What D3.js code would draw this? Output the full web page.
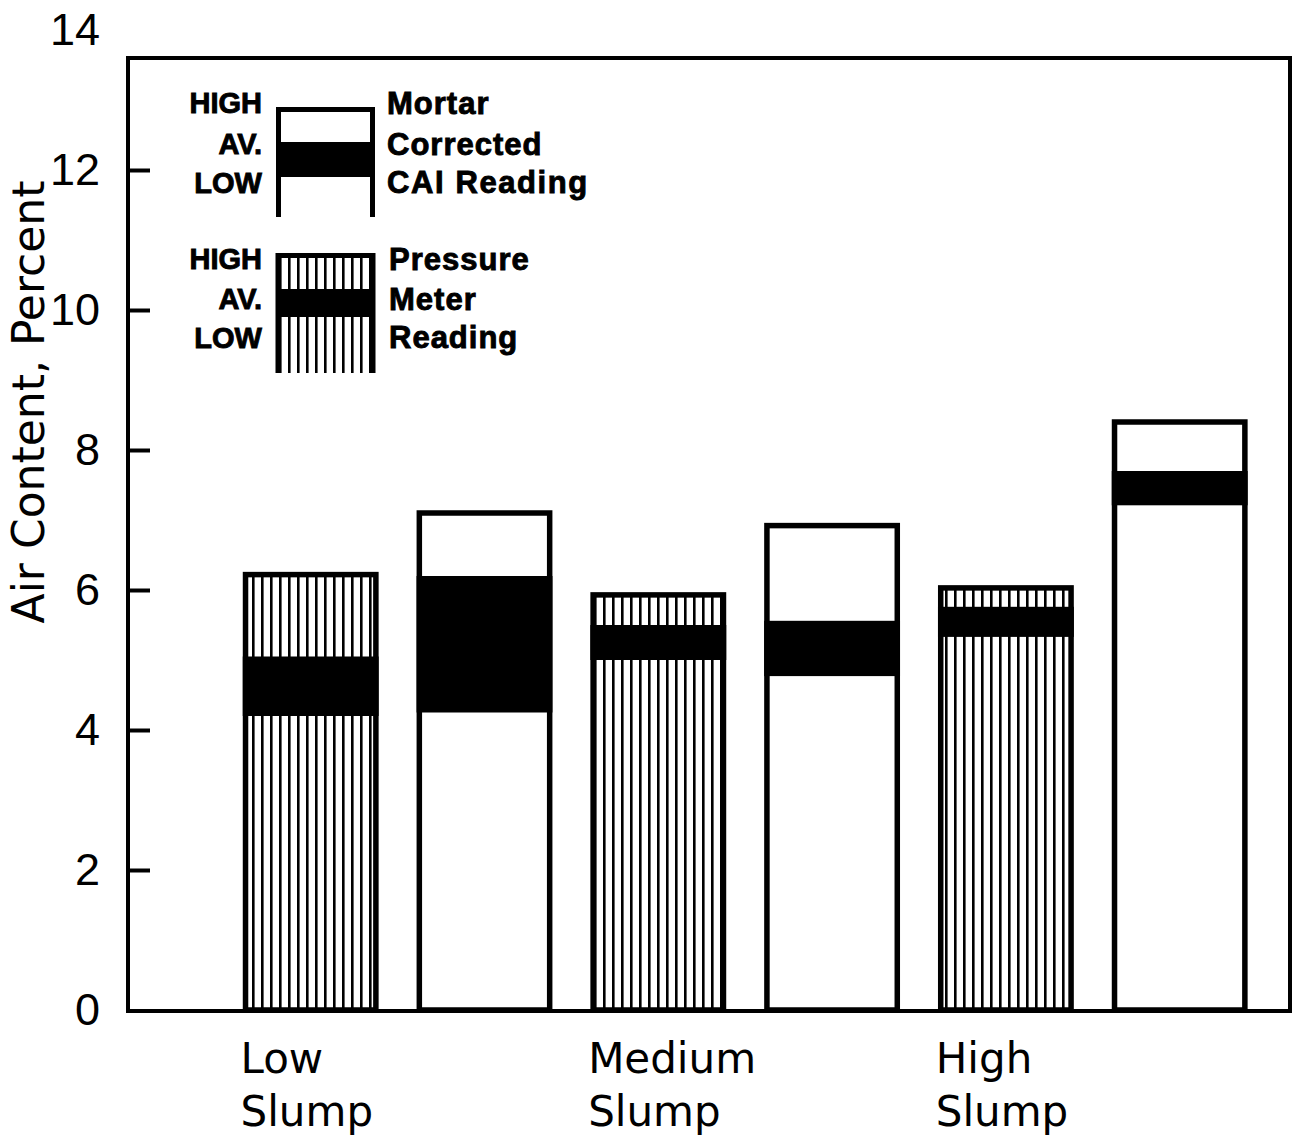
<!DOCTYPE html>
<html>
<head>
<meta charset="utf-8">
<script src="https://cdn.jsdelivr.net/npm/d3@7"></script>
<style>
  html, body { margin: 0; padding: 0; background: #fff; }
  svg { display: block; }
</style>
</head>
<body>
<svg id="chart" width="1297" height="1144"></svg>
<script>
// Air content by slump class: pressure meter vs. mortar-corrected CAI readings
const slumpClasses = ["Low", "Medium", "High"];
const methods = ["pressure", "cai"];

// Pressure meter readings (percent)
const pressureHigh = [6.22, 5.93, 6.03];
const pressureAvg  = [5.05, 5.50, 5.76];
const pressureLow  = [4.20, 5.00, 5.33];

// Mortar corrected CAI readings (percent)
const caiHigh = [7.10, 6.92, 8.40];
const caiAvg  = [6.20, 5.56, 7.70];
const caiLow  = [4.25, 4.77, 7.21];

const yTicks = [0, 2, 4, 6, 8, 10, 12, 14];
const yTitle = "Air Content, Percent";
const rowLabels = ["HIGH", "AV.", "LOW"];
const caiLegendText = ["Mortar", "Corrected", "CAI Reading"];
const pressureLegendText = ["Pressure", "Meter", "Reading"];

const bars = [];
slumpClasses.forEach((s, i) => {
  bars.push({ slump: s, method: "pressure", high: pressureHigh[i], avg: pressureAvg[i], low: pressureLow[i] });
  bars.push({ slump: s, method: "cai", high: caiHigh[i], avg: caiAvg[i], low: caiLow[i] });
});

const svg = d3.select("#chart");
const frame = { left: 128, right: 1290, top: 13.6 };

const y = d3.scaleLinear().domain([0, 14]).range([1010, 30]);
const x = d3.scaleBand()
  .domain(bars.map(d => d.slump + "|" + d.method))
  .range([223.8, 1266.6])
  .paddingInner(0.25)
  .paddingOuter(0.125);

// vertical hatching used for the pressure meter bars
const defs = svg.append("defs");
const hatch = defs.append("pattern")
  .attr("id", "vhatch")
  .attr("patternUnits", "userSpaceOnUse")
  .attr("width", 9).attr("height", 9);
hatch.append("rect").attr("width", 9).attr("height", 9).attr("fill", "#fff");
hatch.append("rect").attr("x", 0).attr("width", 2.6).attr("height", 9).attr("fill", "#000");

// bars
const barG = svg.append("g");
const bw = x.bandwidth();
bars.forEach(d => {
  const x0 = x(d.slump + "|" + d.method);
  barG.append("rect")
    .attr("x", x0).attr("y", y(d.high))
    .attr("width", bw).attr("height", y(0) - y(d.high))
    .attr("fill", d.method === "pressure" ? "url(#vhatch)" : "#fff")
    .attr("stroke", "#000").attr("stroke-width", 5.5);
  barG.append("rect")
    .attr("x", x0 - 2.75).attr("y", y(d.avg))
    .attr("width", bw + 5.5).attr("height", y(d.low) - y(d.avg))
    .attr("fill", "#000");
});

// plot frame
svg.append("rect")
  .attr("x", frame.left).attr("y", y(frame.top))
  .attr("width", frame.right - frame.left)
  .attr("height", y(0) - y(frame.top) + 1)
  .attr("fill", "none").attr("stroke", "#000").attr("stroke-width", 4);

// y axis: inward ticks, labels outside the frame
const yAxis = d3.axisLeft(y).tickValues(yTicks).tickSize(-22).tickPadding(28).tickFormat(d3.format("d"));
const ag = svg.append("g").attr("transform", `translate(${frame.left},0)`).call(yAxis);
ag.select(".domain").remove();
ag.selectAll(".tick line")
  .attr("stroke", "#000").attr("stroke-width", 4)
  .attr("display", d => (d === 0 || d > frame.top) ? "none" : null);
ag.selectAll(".tick text")
  .attr("fill", "#000")
  .style("font-family", "'Liberation Sans', Arial, sans-serif")
  .style("font-size", "45px");

// y axis title
svg.append("text")
  .attr("transform", "translate(44,402) rotate(-90)")
  .attr("text-anchor", "middle")
  .style("font-family", "'DejaVu Sans', sans-serif")
  .style("font-size", "44px")
  .text(yTitle);

// slump class labels under the first bar of each group
slumpClasses.forEach(s => {
  const x0 = x(s + "|pressure") - 5;
  const t = svg.append("text")
    .attr("x", x0).attr("y", 1073)
    .style("font-family", "'DejaVu Sans', sans-serif")
    .style("font-size", "42px");
  t.append("tspan").attr("x", x0).text(s);
  t.append("tspan").attr("x", x0).attr("y", 1126).text("Slump");
});

// legend
const lg = svg.append("g");
const boxL = 276, boxR = 375;
const boldText = (sel) => sel
  .style("font-family", "'Liberation Sans', Arial, sans-serif")
  .style("font-weight", "bold")
  .attr("stroke", "#000")
  .attr("stroke-width", 0.9);

// CAI swatch: open-bottom box with solid band
lg.append("rect").attr("x", boxL).attr("y", 107).attr("width", boxR - boxL).attr("height", 110).attr("fill", "#fff");
lg.append("rect").attr("x", boxL).attr("y", 142).attr("width", boxR - boxL).attr("height", 35).attr("fill", "#000");
lg.append("path")
  .attr("d", `M${boxL + 2.5},217 V${109.5} H${boxR - 2.5} V217`)
  .attr("fill", "none").attr("stroke", "#000").attr("stroke-width", 5);

// pressure meter swatch: hatched box with solid band
lg.append("rect").attr("x", boxL).attr("y", 253).attr("width", boxR - boxL).attr("height", 120).attr("fill", "url(#vhatch)");
lg.append("rect").attr("x", boxL).attr("y", 289).attr("width", boxR - boxL).attr("height", 28).attr("fill", "#000");
lg.append("path")
  .attr("d", `M${boxL + 2},373 V${255.5} H${boxR - 2} V373`)
  .attr("fill", "none").attr("stroke", "#000").attr("stroke-width", 5);

const rowY1 = [113, 154, 193];
const rowY2 = [269, 309, 348];
const titleY1 = [114, 155, 193];
const titleY2 = [270, 310, 348];

rowLabels.forEach((r, i) => {
  lg.append("text").attr("x", 262).attr("y", rowY1[i]).attr("text-anchor", "end")
    .call(boldText).style("font-size", "29px").text(r);
  lg.append("text").attr("x", 262).attr("y", rowY2[i]).attr("text-anchor", "end")
    .call(boldText).style("font-size", "29px").text(r);
});
caiLegendText.forEach((t, i) => {
  lg.append("text").attr("x", 387).attr("y", titleY1[i])
    .call(boldText).style("font-size", "31px").style("letter-spacing", i === 2 ? "1.6px" : "1px").text(t);
});
pressureLegendText.forEach((t, i) => {
  lg.append("text").attr("x", 389).attr("y", titleY2[i])
    .call(boldText).style("font-size", "31px").style("letter-spacing", "1px").text(t);
});
</script>
</body>
</html>
